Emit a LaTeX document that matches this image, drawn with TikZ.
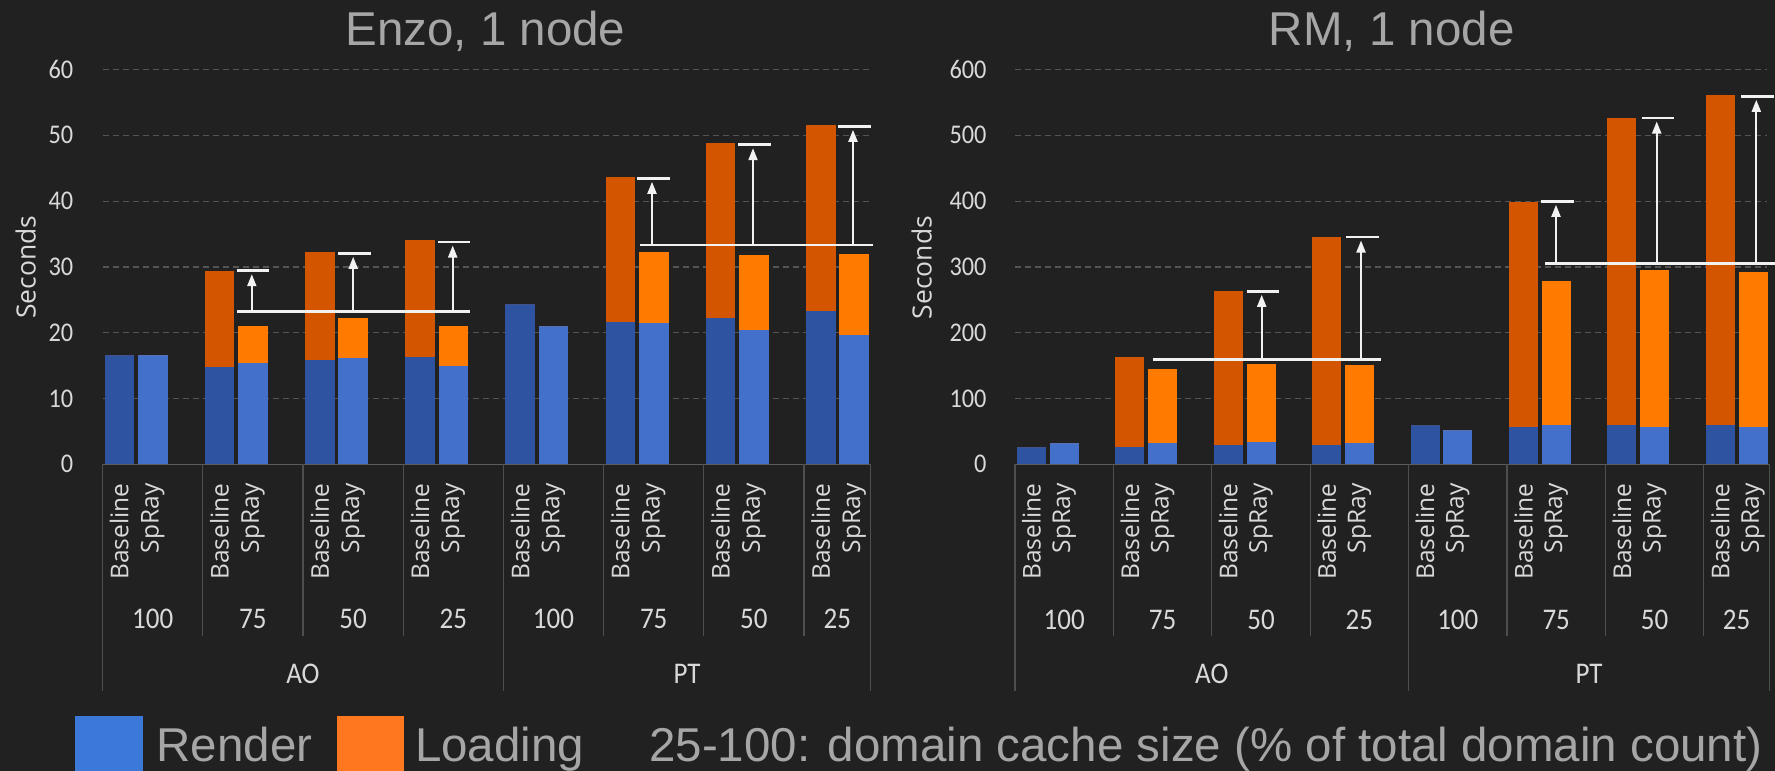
\documentclass[tikz,border=0pt]{standalone}
\usepackage{fontspec}
\setmainfont{Liberation Sans}
\newfontfamily\lblfont{Open Sans}
\newfontfamily\numfont{Carlito}[FakeStretch=0.9]
\usetikzlibrary{arrows.meta}

\definecolor{bgc}{RGB}{33,33,33}
\definecolor{gridc}{RGB}{84,84,84}
\definecolor{axisc}{RGB}{92,92,92}
\definecolor{divc}{RGB}{78,78,78}
\definecolor{lblc}{RGB}{217,217,217}
\definecolor{titlec}{RGB}{166,166,166}
\definecolor{baseRender}{RGB}{46,83,160}
\definecolor{baseLoad}{RGB}{212,85,0}
\definecolor{sprRender}{RGB}{66,112,203}
\definecolor{sprLoad}{RGB}{255,123,0}
\definecolor{legBlue}{RGB}{60,120,216}
\definecolor{legOrange}{RGB}{255,120,31}
\definecolor{markc}{RGB}{242,242,242}

\tikzset{
  gridline/.style={draw=gridc, line width=1.2pt, dash pattern=on 6pt off 4pt},
  axisline/.style={draw=axisc, line width=1.5pt},
  divline/.style={draw=divc, line width=1.2pt},
  ticklbl/.style={text=lblc, inner sep=0pt, anchor=east, font=\numfont\fontsize{27}{27}\selectfont},
  grplbl/.style={text=lblc, inner sep=0pt, font=\numfont\fontsize{30}{30}\selectfont},
  catlbl/.style={text=lblc, inner sep=0pt, rotate=90, anchor=east, font=\lblfont\fontsize{24.5}{25}\selectfont},
  seclbl/.style={text=lblc, inner sep=0pt, rotate=90, font=\lblfont\fontsize{26.5}{27}\selectfont},
  titlelbl/.style={text=titlec, inner sep=0pt, anchor=base, font=\fontsize{47.5}{50}\selectfont},
  legtxt/.style={text=titlec, inner sep=0pt, anchor=base west, font=\fontsize{47.5}{50}\selectfont},
  refline/.style={draw=markc, line width=2.5pt},
  capline/.style={draw=markc, line width=2.5pt},
  gainshaft/.style={draw=markc, line width=2pt, -{Triangle[width=9pt,length=12pt]}},
}

% vertical gain arrow: x, base y, cap y, name
\newcommand\gainarrow[4]{%
  \coordinate (#4b) at (#1,#2);
  \coordinate (#4t) at (#1,{#3+3.5});
  \coordinate (#4l) at ({#1-15},#3);
  \coordinate (#4r) at ({#1+17.5},#3);
  \draw[gainshaft] (#4b) -- (#4t);
  \draw[capline] (#4l) -- (#4r);
}

\begin{document}
\begin{tikzpicture}[x=1pt,y=-1pt]
\useasboundingbox (0,0) rectangle (1775,771);
\fill[bgc] (0,0) rectangle (1775,771);

% ---------------- Enzo chart ----------------
\node[titlelbl] (etitle) at (485.5,45) {Enzo, 1 node};
\foreach \v in {10,20,...,60}
  \draw[gridline] (102.6,{464.3-6.58*\v}) -- (870.7,{464.3-6.58*\v});
\foreach \v in {0,10,...,60}
  \node[ticklbl] (et\v) at (73.5,{464.3-6.58*\v}) {\v};
\node[seclbl] (esec) at (25.6,267) {Seconds};

% baseline bars: slot / render / total
\foreach \i/\r/\t in {0/16.6/16.6, 3/14.8/29.4, 6/15.9/32.2, 9/16.3/34.1,
                       12/24.4/24.4, 15/21.7/43.7, 18/22.3/48.8, 21/23.3/51.5}{
  \pgfmathsetmacro\xc{102.6+33.4*(\i+0.5)}
  \fill[baseRender] ({\xc-14.8},464.3) rectangle ({\xc+14.8},{464.3-6.58*\r});
  \fill[baseLoad] ({\xc-14.8},{464.3-6.58*\r}) rectangle ({\xc+14.8},{464.3-6.58*\t});
}
% SpRay bars
\foreach \i/\r/\t in {1/16.6/16.6, 4/15.4/21.0, 7/16.2/22.2, 10/15.0/21.0,
                       13/21.0/21.0, 16/21.5/32.2, 19/20.4/31.8, 22/19.7/32.0}{
  \pgfmathsetmacro\xc{102.6+33.4*(\i+0.5)}
  \fill[sprRender] ({\xc-14.8},464.3) rectangle ({\xc+14.8},{464.3-6.58*\r});
  \fill[sprLoad] ({\xc-14.8},{464.3-6.58*\r}) rectangle ({\xc+14.8},{464.3-6.58*\t});
}
\draw[axisline] (102,464.3) -- (871.3,464.3);

% category axis
\foreach \k in {1,2,3,5,6,7}
  \draw[divline] ({102.6+100.2*\k},464.3) -- ({102.6+100.2*\k},636);
\foreach \xx in {102.6,503.4,870.7}
  \draw[divline] (\xx,464.3) -- (\xx,691);
\foreach \k in {0,...,7}{
  \pgfmathsetmacro\xb{102.6+33.4*(3*\k+0.5)}
  \pgfmathsetmacro\xs{102.6+33.4*(3*\k+1.5)}
  \node[catlbl] (ecb\k) at (\xb,483.3) {Baseline};
  \node[catlbl] (ecs\k) at (\xs,483.3) {SpRay};
}
\foreach \k/\lab in {0/100,1/75,2/50,3/25,4/100,5/75,6/50}
  \node[grplbl] (eg\k) at ({102.6+100.2*(\k+0.5)},619) {\lab};
\node[grplbl] (eg7) at (837.35,619) {25};
\node[grplbl] (eao) at (303,674.2) {AO};
\node[grplbl] (ept) at (687,674.2) {PT};

% gains
\coordinate (eaoL) at (237.3,311.7);
\coordinate (eaoR) at (469.6,311.7);
\draw[refline] (eaoL) -- (eaoR);
\gainarrow{251.8}{311.7}{270.7}{ea1}
\gainarrow{353.2}{311.7}{253.3}{ea2}
\gainarrow{452.7}{311.7}{242}{ea3}
\coordinate (eptL) at (640,245);
\coordinate (eptR) at (872.7,245);
\draw[refline] (eptL) -- (eptR);
\gainarrow{652}{245}{178.3}{ep1}
\gainarrow{753}{245}{144.7}{ep2}
\gainarrow{853}{245}{126.3}{ep3}

% ---------------- RM chart ----------------
\node[titlelbl] (rtitle) at (1391.7,45) {RM, 1 node};
\foreach \v in {100,200,...,600}
  \draw[gridline] (1015,{464.3-0.658*\v}) -- (1767.3,{464.3-0.658*\v});
\foreach \v in {0,100,...,600}
  \node[ticklbl] (rt\v) at (986.7,{464.3-0.658*\v}) {\v};
\node[seclbl] (rsec) at (921.7,267.5) {Seconds};

\foreach \i/\r/\t in {0/26/26, 3/27/163, 6/29/263, 9/29/345,
                       12/60/60, 15/57/398.6, 18/59/526, 21/59/562}{
  \pgfmathsetmacro\xc{1015+32.8*(\i+0.5)}
  \fill[baseRender] ({\xc-14.5},464.3) rectangle ({\xc+14.5},{464.3-0.658*\r});
  \fill[baseLoad] ({\xc-14.5},{464.3-0.658*\r}) rectangle ({\xc+14.5},{464.3-0.658*\t});
}
\foreach \i/\r/\t in {1/32/32, 4/33/145, 7/34/153, 10/32/151,
                       13/52/52, 16/59/279, 19/57/295, 22/57/293}{
  \pgfmathsetmacro\xc{1015+32.8*(\i+0.5)}
  \fill[sprRender] ({\xc-14.5},464.3) rectangle ({\xc+14.5},{464.3-0.658*\r});
  \fill[sprLoad] ({\xc-14.5},{464.3-0.658*\r}) rectangle ({\xc+14.5},{464.3-0.658*\t});
}
\draw[axisline] (1014.5,464.3) -- (1769.8,464.3);

\foreach \k in {1,2,3,5,6,7}
  \draw[divline] ({1015+98.4*\k},464.3) -- ({1015+98.4*\k},636);
\foreach \xx in {1015,1408.6,1769.3}
  \draw[divline] (\xx,464.3) -- (\xx,691);
\foreach \k in {0,...,7}{
  \pgfmathsetmacro\xb{1015+32.8*(3*\k+0.5)}
  \pgfmathsetmacro\xs{1015+32.8*(3*\k+1.5)}
  \node[catlbl] (rcb\k) at (\xb,483.3) {Baseline};
  \node[catlbl] (rcs\k) at (\xs,483.3) {SpRay};
}
\foreach \k/\lab in {0/100,1/75,2/50,3/25,4/100,5/75,6/50}
  \node[grplbl] (rg\k) at ({1015+98.4*(\k+0.5)},619.5) {\lab};
\node[grplbl] (rg7) at (1736.55,619.5) {25};
\node[grplbl] (rao) at (1211.8,674.2) {AO};
\node[grplbl] (rpt) at (1589,674.2) {PT};

\coordinate (raoL) at (1152.7,359.3);
\coordinate (raoR) at (1380.7,359.3);
\draw[refline] (raoL) -- (raoR);
\gainarrow{1261.7}{359.3}{291.3}{ra1}
\gainarrow{1361}{359.3}{237}{ra2}
\coordinate (rptL) at (1545,263.3);
\coordinate (rptR) at (1775,263.3);
\draw[refline] (rptL) -- (rptR);
\gainarrow{1556}{263.3}{201.3}{rp1}
\gainarrow{1656.7}{263.3}{118}{rp2}
\gainarrow{1756.3}{263.3}{96.3}{rp3}

% ---------------- legend ----------------
\fill[legBlue] (75,715.7) rectangle (142.7,771);
\node[legtxt] (lrender) at (156.5,761.7) {Render};
\fill[legOrange] (336.7,715.7) rectangle (404,771);
\node[legtxt] (lload) at (414.8,761.7) {Loading};
\node[legtxt] (lnote) at (649,761.7) {25-100: domain cache size (\% of total domain count)};
\end{tikzpicture}
\end{document}
